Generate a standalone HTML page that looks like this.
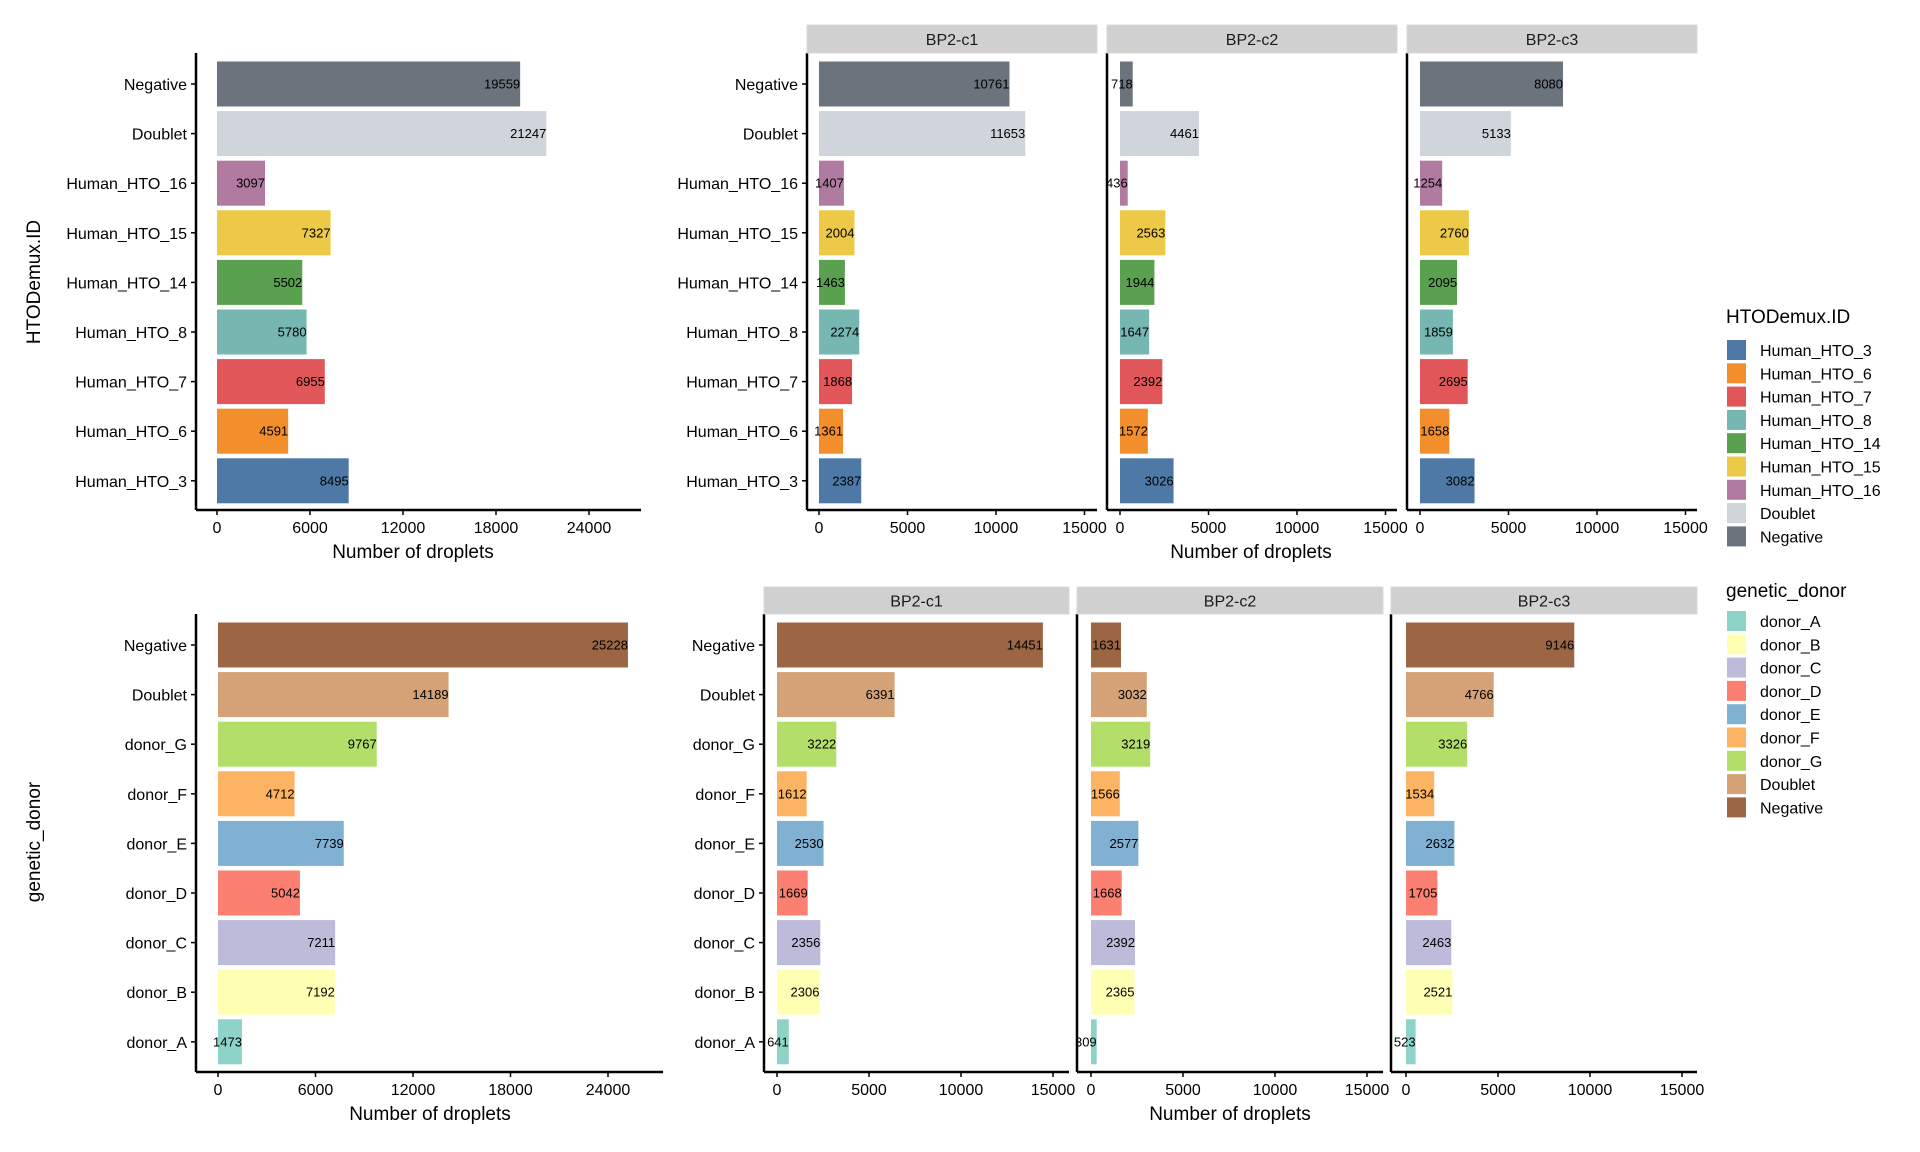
<!DOCTYPE html>
<html><head><meta charset="utf-8"><style>
body{margin:0;background:#fff}
svg{display:block;font-family:"Liberation Sans Narrow","Liberation Sans",sans-serif}
</style></head><body>
<svg id="c" width="1920" height="1152" viewBox="0 0 1920 1152" xmlns="http://www.w3.org/2000/svg"></svg>
<script>
const htoCats = ["Negative","Doublet","Human_HTO_16","Human_HTO_15","Human_HTO_14","Human_HTO_8","Human_HTO_7","Human_HTO_6","Human_HTO_3"];
const htoColors = ["#6b737d","#d0d4db","#b07aa1","#edc948","#59a14f","#76b7b2","#e15759","#f28e2b","#4e79a7"];
const htoTotal = [19559,21247,3097,7327,5502,5780,6955,4591,8495];
const htoC1 = [10761,11653,1407,2004,1463,2274,1868,1361,2387];
const htoC2 = [718,4461,436,2563,1944,1647,2392,1572,3026];
const htoC3 = [8080,5133,1254,2760,2095,1859,2695,1658,3082];
const htoLegend = ["Human_HTO_3","Human_HTO_6","Human_HTO_7","Human_HTO_8","Human_HTO_14","Human_HTO_15","Human_HTO_16","Doublet","Negative"];
const donorCats = ["Negative","Doublet","donor_G","donor_F","donor_E","donor_D","donor_C","donor_B","donor_A"];
const donorColors = ["#9c6644","#d4a276","#b3de69","#fdb462","#80b1d3","#fb8072","#bebada","#ffffb3","#8dd3c7"];
const donorTotal = [25228,14189,9767,4712,7739,5042,7211,7192,1473];
const donorC1 = [14451,6391,3222,1612,2530,1669,2356,2306,641];
const donorC2 = [1631,3032,3219,1566,2577,1668,2392,2365,309];
const donorC3 = [9146,4766,3326,1534,2632,1705,2463,2521,523];
const donorLegend = ["donor_A","donor_B","donor_C","donor_D","donor_E","donor_F","donor_G","Doublet","Negative"];
const totalTicks = [0,6000,12000,18000,24000];
const facetTicks = [0,5000,10000,15000];
const facetNames = ["BP2-c1","BP2-c2","BP2-c3"];

const svg = document.getElementById('c');
const NS = "http://www.w3.org/2000/svg";
function mk(tag, attrs, parent){
  const e = document.createElementNS(NS, tag);
  for (const k in attrs) e.setAttribute(k, attrs[k]);
  (parent||svg).appendChild(e); return e;
}

function panel(o){
  const g = mk('g', {});
  
  
  const xs = v => o.x0 + v * o.scale;
  const ys = i => o.yTop + i * o.step;
  // bars
  o.values.forEach((v,i)=>{
    const r = mk('rect', {x:xs(0), y:ys(i)-o.bh/2, width:Math.max(0,xs(v)-xs(0)), height:o.bh, fill:o.colors[i]}, g);
    
    
    const t = mk('text', {x:xs(v), y:ys(i)+4.5, 'text-anchor':'end', 'font-size':13, fill:'#000'}, g);
    t.textContent = v;
    
    
  });
  // axes
  mk('line', {x1:o.axL, x2:o.axL, y1:o.axTop, y2:o.axBot, stroke:'#000', 'stroke-width':2.5}, g);
  mk('line', {x1:o.axL, x2:o.axR, y1:o.axBot, y2:o.axBot, stroke:'#000', 'stroke-width':2.5}, g);
  o.ticks.forEach(tv=>{
    mk('line', {x1:xs(tv), x2:xs(tv), y1:o.axBot, y2:o.axBot+5, stroke:'#000', 'stroke-width':1.5}, g);
    const t = mk('text', {x:xs(tv), y:o.axBot+23, 'text-anchor':'middle', 'font-size':16, fill:'#000'}, g);
    t.textContent = tv;
    
    
  });
  if (o.showCats) o.cats.forEach((c,i)=>{
    mk('line', {x1:o.axL-5, x2:o.axL, y1:ys(i), y2:ys(i), stroke:'#000', 'stroke-width':1.5}, g);
    const t = mk('text', {x:o.axL-9, y:ys(i)+6, 'text-anchor':'end', 'font-size':16, fill:'#000'}, g);
    t.textContent = c;
    
    
  });
  if (o.strip){
    const r = mk('rect', {x:o.axL, y:o.stripY, width:o.axR-o.axL, height:o.stripH, fill:'#d0d0d0', stroke:'#d9d9d9'}, g);
    
    
    const t = mk('text', {x:(o.axL+o.axR)/2, y:o.stripY+o.stripH/2+6, 'text-anchor':'middle', 'font-size':16, fill:'#1a1a1a'}, g);
    t.textContent = o.strip;
    
    
  }
}
function text(x,y,s,size,name,anchor,rot){
  const t = mk('text', {x:x, y:y, 'text-anchor':anchor||'middle', 'font-size':size, fill:'#000'});
  if (rot) t.setAttribute('transform', 'rotate(-90 '+x+' '+y+')');
  t.textContent = s;
  
  
  return t;
}

// Top row
panel({name:'hto-total-panel', cats:htoCats, colors:htoColors, values:htoTotal, ticks:totalTicks,
  x0:217, scale:372/24000, yTop:84, step:49.6, bh:45, axL:196, axR:641, axTop:53, axBot:510, showCats:true});
const topF = [[807,1097,819],[1107,1397,1120],[1407,1697,1420]];
[htoC1,htoC2,htoC3].forEach((vals,k)=>{
  panel({name:'hto-facet-'+(k+1), cats:htoCats, colors:htoColors, values:vals, ticks:facetTicks,
    x0:topF[k][2], scale:88.5/5000, yTop:84, step:49.6, bh:45, axL:topF[k][0], axR:topF[k][1], axTop:53, axBot:510,
    showCats:k===0, strip:facetNames[k], stripY:25, stripH:28});
});
text(413,558,'Number of droplets',19,'x-axis-title');
text(1251,558,'Number of droplets',19,'x-axis-title');
text(40,282,'HTODemux.ID',19,'y-axis-title','middle',true);

// Bottom row
panel({name:'donor-total-panel', cats:donorCats, colors:donorColors, values:donorTotal, ticks:totalTicks,
  x0:218, scale:390/24000, yTop:645, step:49.6, bh:45, axL:196, axR:663, axTop:614, axBot:1072, showCats:true});
const botF = [[764,1069,777],[1077,1383,1091],[1391,1697,1406]];
[donorC1,donorC2,donorC3].forEach((vals,k)=>{
  panel({name:'donor-facet-'+(k+1), cats:donorCats, colors:donorColors, values:vals, ticks:facetTicks,
    x0:botF[k][2], scale:92/5000, yTop:645, step:49.6, bh:45, axL:botF[k][0], axR:botF[k][1], axTop:614, axBot:1072,
    showCats:k===0, strip:facetNames[k], stripY:587, stripH:27});
});
text(430,1120,'Number of droplets',19,'x-axis-title');
text(1230,1120,'Number of droplets',19,'x-axis-title');
text(40,842,'genetic_donor',19,'y-axis-title','middle',true);

// Legends
function legend(name,title,labels,cats,colors,ty,ky){
  const g = mk('g',{});
  
  
  const t = mk('text',{x:1726,y:ty,'font-size':19,fill:'#000'},g);
  t.textContent = title;
  labels.forEach((l,i)=>{
    const c = colors[cats.indexOf(l)];
    const y = ky + i*23.3;
    const r = mk('rect',{x:1727,y:y-10,width:19,height:20,fill:c},g);
    
    
    const tx = mk('text',{x:1760,y:y+6,'font-size':16,fill:'#000'},g);
    tx.textContent = l;
    
    
  });
}
legend('hto-legend','HTODemux.ID',htoLegend,htoCats,htoColors,323,350);
legend('donor-legend','genetic_donor',donorLegend,donorCats,donorColors,597,621);
</script>
</body></html>
